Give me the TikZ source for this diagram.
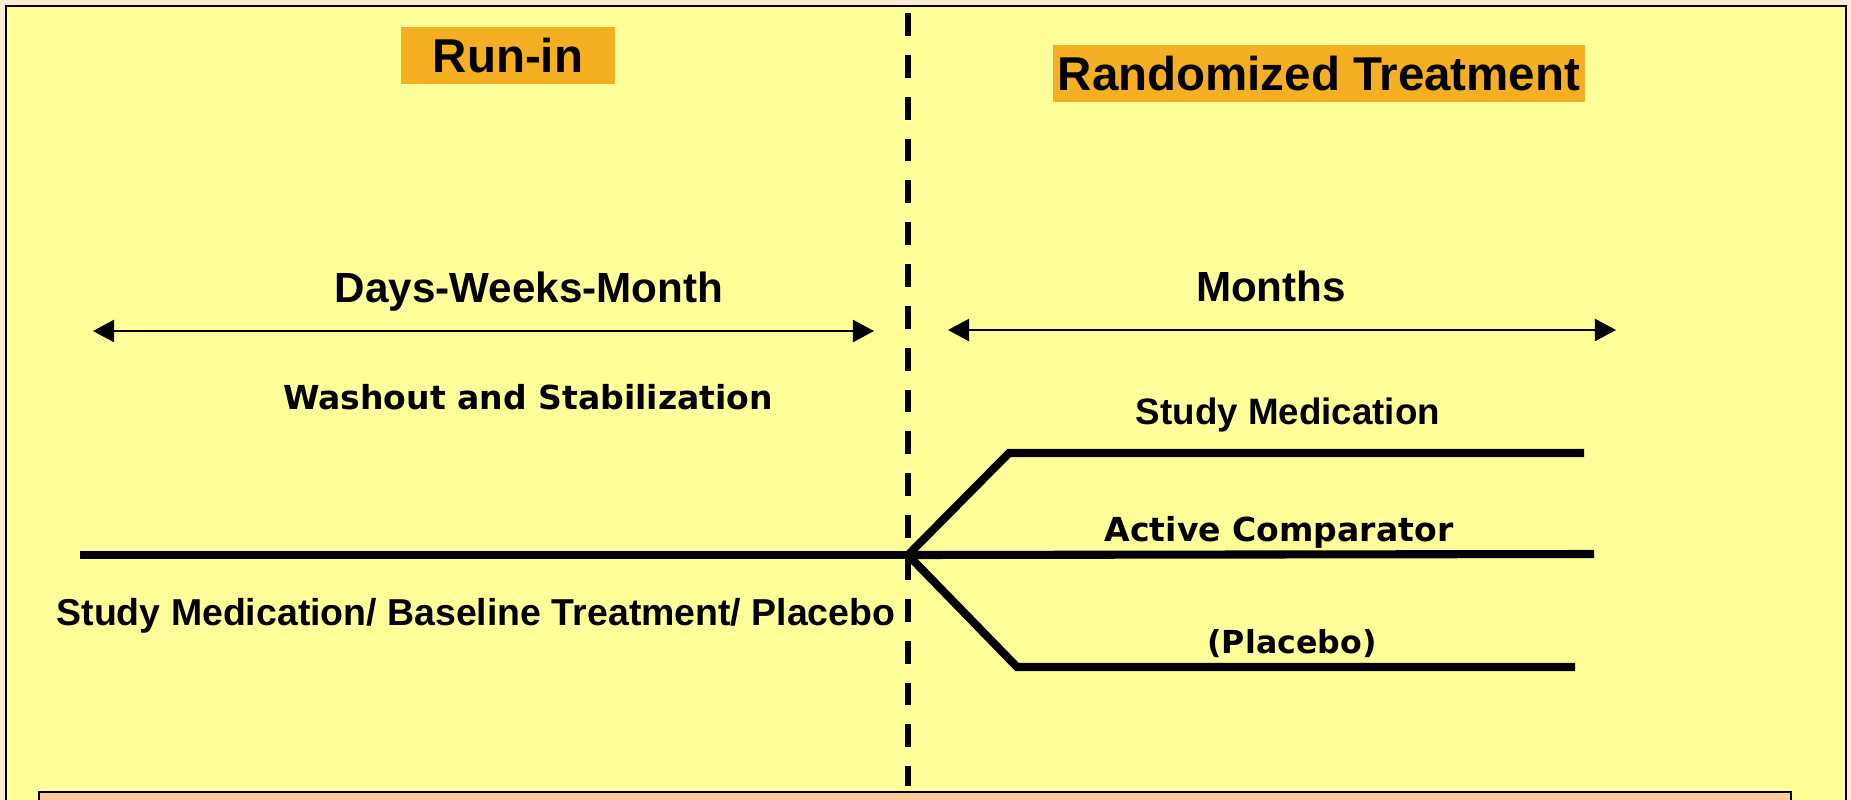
\documentclass[tikz,border=0pt]{standalone}
\usepackage{fontspec}
\setmainfont{Liberation Sans}
\newfontfamily\wideface{DejaVu Sans}
\usetikzlibrary{arrows.meta,positioning}
\definecolor{paneyellow}{HTML}{FFFF99}
\definecolor{phaseorange}{HTML}{F5AF23}
\definecolor{notepeach}{HTML}{FFCC99}
\definecolor{edgepeach}{HTML}{FDEBD3}
\tikzset{
  phasebox/.style={fill=phaseorange,inner sep=0pt,minimum height=0.57cm,font=\bfseries\fontsize{13.5}{16}\selectfont},
  spanlabel/.style={anchor=base,inner sep=0pt,font=\bfseries\fontsize{12}{14}\selectfont},
  armlabel/.style={anchor=base,inner sep=0pt,font=\wideface\bfseries\fontsize{9.4}{11}\selectfont},
  druglabel/.style={anchor=base,inner sep=0pt,font=\bfseries\fontsize{10.45}{12}\selectfont},
  arm/.style={line width=2.3pt,line join=miter},
  span/.style={{Triangle[length=6pt,width=6.3pt]}-{Triangle[length=6pt,width=6.3pt]},line width=0.6pt},
  divider/.style={line width=1.6pt,dash pattern=on 6.5pt off 5.4pt}
}
\begin{document}
\begin{tikzpicture}[x=0.01cm,y=-0.01cm]
  \useasboundingbox (0,0) rectangle (1851,800);
  \clip (0,0) rectangle (1851,800);
  \fill[edgepeach] (0,0) rectangle (1851,800);
  \draw[fill=paneyellow,line width=0.7pt] (6,6) rectangle (1846,840);
  \draw[fill=notepeach,line width=0.8pt] (39,792) rectangle (1791,840);
  % phase headers
  \node[phasebox,minimum width=2.14cm] (runin) at (508,55.5) {Run-in};
  \node[phasebox,minimum width=5.32cm] (randomized) at (1319,73.5) {Randomized Treatment};
  % divider at randomization
  \coordinate (divtop) at (908,13);
  \coordinate (divbot) at (908,786);
  \draw[divider] (divtop) -- (divbot);
  % time spans
  \node[spanlabel] (daysweeks) at (529,302) {Days-Weeks-Month};
  \node[spanlabel] (months) at (1271,301) {Months};
  \coordinate (runinL) at (93,331);
  \coordinate (runinR) at (874,331);
  \coordinate (treatL) at (948,330);
  \coordinate (treatR) at (1616,330);
  \draw[span] (runinL) -- (runinR);
  \draw[span] (treatL) -- (treatR);
  \node[armlabel] (washout) at (528,409) {Washout and Stabilization};
  % treatment arms
  \coordinate (start) at (80,555);
  \coordinate (split) at (908,555);
  \coordinate (upbend) at (1009,453);
  \coordinate (upend) at (1584,453);
  \coordinate (midend) at (1594,554);
  \coordinate (lowbend) at (1017,667);
  \coordinate (lowend) at (1575,667);
  \draw[arm] (start) -- (split);
  \draw[arm] (split) -- (midend);
  \draw[arm] (split) -- (upbend) -- (upend);
  \draw[arm] (split) -- (lowbend) -- (lowend);
  \node[druglabel] (studymed) at (1288,424) {Study Medication};
  \node[armlabel] (activecomp) at (1279,541) {Active Comparator};
  \node[armlabel,font=\wideface\bfseries\fontsize{9}{11}\selectfont] (placebo) at (1292,653) {(Placebo)};
  \node[druglabel,font=\bfseries\fontsize{10.65}{12}\selectfont] (runinmed) at (476,625) {Study Medication/ Baseline Treatment/ Placebo};
\end{tikzpicture}
\end{document}
